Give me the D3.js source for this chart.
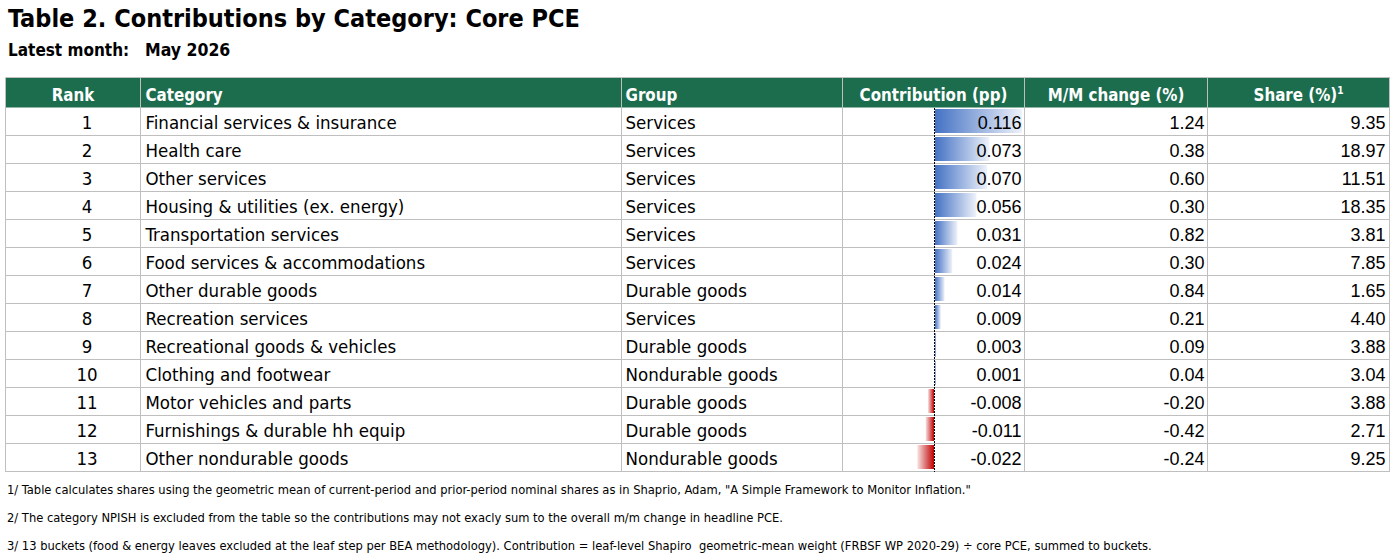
<!DOCTYPE html>
<html>
<head>
<meta charset="utf-8">
<script src="https://cdn.jsdelivr.net/npm/d3@7"></script>
<style>
  html, body { margin: 0; padding: 0; background: #fff; }
  svg { display: block; }
</style>
</head>
<body>
<svg id="chart"></svg>
<script>
// ─── DATA ───
const ranks = [1, 2, 3, 4, 5, 6, 7, 8, 9, 10, 11, 12, 13];
const categories = [
  'Financial services & insurance', 'Health care', 'Other services',
  'Housing & utilities (ex. energy)', 'Transportation services',
  'Food services & accommodations', 'Other durable goods', 'Recreation services',
  'Recreational goods & vehicles', 'Clothing and footwear',
  'Motor vehicles and parts', 'Furnishings & durable hh equip', 'Other nondurable goods'
];
const groups = [
  'Services', 'Services', 'Services', 'Services', 'Services', 'Services',
  'Durable goods', 'Services', 'Durable goods', 'Nondurable goods',
  'Durable goods', 'Durable goods', 'Nondurable goods'
];
const contributions = [0.116, 0.073, 0.070, 0.056, 0.031, 0.024, 0.014, 0.009, 0.003, 0.001, -0.008, -0.011, -0.022];
const mmChanges = [1.24, 0.38, 0.60, 0.30, 0.82, 0.30, 0.84, 0.21, 0.09, 0.04, -0.20, -0.42, -0.24];
const shares = [9.35, 18.97, 11.51, 18.35, 3.81, 7.85, 1.65, 4.40, 3.88, 3.04, 3.88, 2.71, 9.25];
const headers = ['Rank', 'Category', 'Group', 'Contribution (pp)', 'M/M change (%)', 'Share (%)'];
const footnotes = [
  '1/ Table calculates shares using the geometric mean of current-period and prior-period nominal shares as in Shaprio, Adam, "A Simple Framework to Monitor Inflation."',
  '2/ The category NPISH is excluded from the table so the contributions may not exacly sum to the overall m/m change in headline PCE.',
  '3/ 13 buckets (food & energy leaves excluded at the leaf step per BEA methodology). Contribution = leaf-level Shapiro  geometric-mean weight (FRBSF WP 2020-29) \u00f7 core PCE, summed to buckets.'
];

// ─── LAYOUT ───
const W = 1400, H = 558;
const NARROW = "'Liberation Sans Narrow', 'DejaVu Sans Condensed', sans-serif";
const NUM = "'Liberation Sans', Arial, sans-serif";
const GREEN = '#1c6d4e';
const GRID = '#bfbfbf';
const colX = [5.5, 140.5, 621.5, 842.5, 1024.5, 1207.5, 1389.5];
const headTop = 77.5, headBottom = 107.5, tableBottom = 471.5;

const svg = d3.select('#chart').attr('width', W).attr('height', H);

// Title block
svg.append('text').attr('x', 8).attr('y', 27)
  .attr('font-family', NARROW).attr('font-weight', 700).attr('font-size', 25)
  .text('Table 2. Contributions by Category: Core PCE');
svg.append('text').attr('x', 8).attr('y', 56)
  .attr('font-family', NARROW).attr('font-weight', 700).attr('font-size', 17)
  .text('Latest month:');
svg.append('text').attr('x', 145).attr('y', 56)
  .attr('font-family', NARROW).attr('font-weight', 700).attr('font-size', 17.5)
  .text('May 2026');

// Row scale
const y = d3.scaleBand().domain(ranks).range([headBottom, tableBottom]).padding(0);
const rowMid = r => y(r) + y.bandwidth() / 2;

// Contribution data-bar scale (Excel auto axis: symmetric around zero)
const maxAbs = d3.max(contributions, d => Math.abs(d));
const xBar = d3.scaleLinear().domain([-maxAbs, maxAbs]).range([846, 1022]);
const axisX = Math.round(xBar(0)) + 0.5;

// Gradients
const defs = svg.append('defs');
const gPos = defs.append('linearGradient').attr('id', 'gradPos').attr('x1', 0).attr('x2', 1);
gPos.append('stop').attr('offset', 0).attr('stop-color', '#4472c4');
gPos.append('stop').attr('offset', 1).attr('stop-color', '#eef2fa');
const gNeg = defs.append('linearGradient').attr('id', 'gradNeg').attr('x1', 1).attr('x2', 0);
gNeg.append('stop').attr('offset', 0).attr('stop-color', '#c00000');
gNeg.append('stop').attr('offset', 1).attr('stop-color', '#f8e4e4');

// Header
svg.append('rect').attr('x', colX[0]).attr('y', headTop)
  .attr('width', colX[6] - colX[0]).attr('height', headBottom - headTop)
  .attr('fill', GREEN);

const headPos = [
  { x: (colX[0] + colX[1]) / 2, anchor: 'middle' },
  { x: colX[1] + 5, anchor: 'start' },
  { x: colX[2] + 4, anchor: 'start' },
  { x: (colX[3] + colX[4]) / 2, anchor: 'middle' },
  { x: (colX[4] + colX[5]) / 2, anchor: 'middle' },
  { x: (colX[5] + colX[6]) / 2, anchor: 'middle' }
];
headers.forEach((h, i) => {
  const t = svg.append('text').attr('x', headPos[i].x).attr('y', 101)
    .attr('text-anchor', headPos[i].anchor)
    .attr('font-family', NARROW).attr('font-weight', 700).attr('font-size', 16.8)
    .attr('fill', '#fff').text(h);
  if (i === 5) t.append('tspan').attr('dy', -7).attr('font-size', 10).text('1');
});

// Data bars
const bars = svg.append('g');
contributions.forEach((c, i) => {
  const r = ranks[i];
  const x1 = xBar(c);
  const left = c >= 0 ? axisX + 0.5 : x1;
  const right = c >= 0 ? x1 : axisX - 0.5;
  bars.append('rect')
    .attr('x', left)
    .attr('y', y(r) + 1.5)
    .attr('width', Math.max(right - left, 1))
    .attr('height', y.bandwidth() - 4)
    .attr('fill', c >= 0 ? 'url(#gradPos)' : 'url(#gradNeg)');
});

// Grid
const grid = svg.append('g').attr('stroke', GRID).attr('stroke-width', 1)
  .attr('shape-rendering', 'crispEdges');
ranks.forEach(r => {
  grid.append('line').attr('x1', colX[0]).attr('x2', colX[6])
    .attr('y1', y(r) + y.bandwidth()).attr('y2', y(r) + y.bandwidth());
});
grid.append('line').attr('x1', colX[0]).attr('x2', colX[6]).attr('y1', headTop).attr('y2', headTop);
colX.forEach(cx => {
  grid.append('line').attr('x1', cx).attr('x2', cx).attr('y1', headTop).attr('y2', tableBottom);
});

// Zero axis of the data bars
svg.append('line')
  .attr('x1', axisX).attr('x2', axisX)
  .attr('y1', headBottom).attr('y2', tableBottom)
  .attr('stroke', '#000').attr('stroke-width', 1).attr('stroke-dasharray', '2,1')
  .attr('shape-rendering', 'crispEdges');

// Cell text
const body = svg.append('g');
const fmt3 = d3.format('.3f'), fmt2 = d3.format('.2f');
const minus = s => s.replace('\u2212', '-');
ranks.forEach((r, i) => {
  const yy = rowMid(r) + 7;
  body.append('text').attr('x', 87).attr('y', yy).attr('text-anchor', 'middle')
    .attr('font-family', NARROW).attr('font-size', 18.5).text(r);
  body.append('text').attr('x', colX[1] + 5).attr('y', yy)
    .attr('font-family', NARROW).attr('font-size', 18.5).text(categories[i]);
  body.append('text').attr('x', colX[2] + 4).attr('y', yy)
    .attr('font-family', NARROW).attr('font-size', 18.5).text(groups[i]);
  body.append('text').attr('x', colX[4] - 3).attr('y', yy).attr('text-anchor', 'end')
    .attr('font-family', NUM).attr('font-size', 18).text(minus(fmt3(contributions[i])));
  body.append('text').attr('x', colX[5] - 3).attr('y', yy).attr('text-anchor', 'end')
    .attr('font-family', NUM).attr('font-size', 18).text(minus(fmt2(mmChanges[i])));
  body.append('text').attr('x', colX[6] - 4).attr('y', yy).attr('text-anchor', 'end')
    .attr('font-family', NUM).attr('font-size', 18).text(minus(fmt2(shares[i])));
});

// Footnotes
footnotes.forEach((f, i) => {
  svg.append('text').attr('x', 7).attr('y', 494 + i * 28)
    .attr('font-family', NARROW).attr('font-size', 12.8)
    .style('white-space', 'pre').text(f);
});
</script>
</body>
</html>
